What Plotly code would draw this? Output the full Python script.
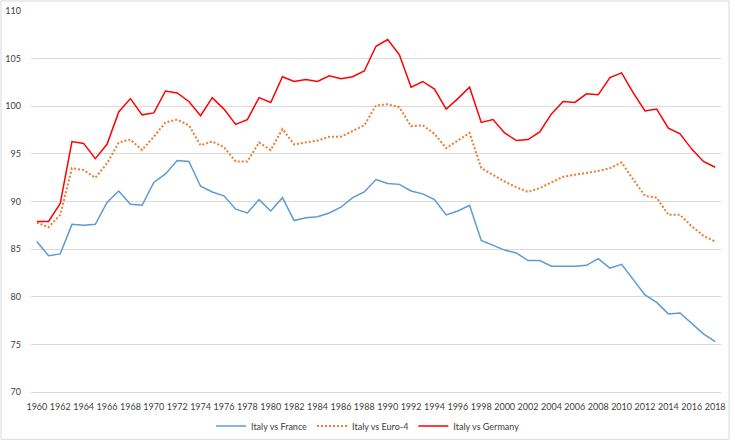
import plotly.graph_objects as go

years = list(range(1960, 2019))

italy_vs_france = [
    85.8, 84.3, 84.5, 87.6, 87.5, 87.6, 89.9, 91.1, 89.7, 89.6,
    92.0, 92.9, 94.3, 94.2, 91.6, 91.0, 90.6, 89.2, 88.8, 90.2,
    89.0, 90.4, 88.0, 88.3, 88.4, 88.8, 89.4, 90.4, 91.0, 92.3,
    91.9, 91.8, 91.1, 90.8, 90.2, 88.6, 89.0, 89.6, 85.9, 85.4,
    84.9, 84.6, 83.8, 83.8, 83.2, 83.2, 83.2, 83.3, 84.0, 83.0,
    83.4, 81.8, 80.2, 79.4, 78.2, 78.3, 77.2, 76.1, 75.3,
]

italy_vs_euro4 = [
    87.8, 87.3, 88.6, 93.5, 93.3, 92.5, 94.0, 96.2, 96.5, 95.4,
    96.8, 98.3, 98.6, 98.0, 95.9, 96.3, 95.7, 94.2, 94.2, 96.2,
    95.4, 97.6, 96.0, 96.2, 96.4, 96.8, 96.8, 97.4, 98.0, 100.1,
    100.2, 99.9, 97.9, 98.0, 97.1, 95.6, 96.4, 97.2, 93.5, 92.8,
    92.1, 91.5, 91.0, 91.4, 92.0, 92.6, 92.8, 93.0, 93.2, 93.5,
    94.1, 92.3, 90.6, 90.4, 88.6, 88.6, 87.4, 86.4, 85.8,
]

italy_vs_germany = [
    87.9, 87.9, 89.8, 96.3, 96.1, 94.5, 96.0, 99.4, 100.8, 99.1,
    99.3, 101.6, 101.4, 100.5, 99.0, 100.9, 99.7, 98.1, 98.6, 100.9,
    100.4, 103.1, 102.6, 102.8, 102.6, 103.2, 102.9, 103.1, 103.7, 106.3,
    107.0, 105.4, 102.0, 102.6, 101.8, 99.7, 100.8, 102.0, 98.3, 98.6,
    97.2, 96.4, 96.5, 97.3, 99.2, 100.5, 100.4, 101.3, 101.2, 103.0,
    103.5, 101.4, 99.5, 99.7, 97.7, 97.1, 95.5, 94.2, 93.6,
]

series_names = ["Italy vs France", "Italy vs Euro-4", "Italy vs Germany"]

FONT = "Lato, 'Open Sans', sans-serif"
TXT = "#404040"

fig = go.Figure()
fig.add_trace(go.Scatter(x=years, y=italy_vs_france, mode="lines", name=series_names[0],
                         line=dict(color="#5B9BD5", width=1.5)))
fig.add_trace(go.Scatter(x=years, y=italy_vs_euro4, mode="lines", name=series_names[1],
                         line=dict(color="#ED7D31", width=2, dash="2px,2px")))
fig.add_trace(go.Scatter(x=years, y=italy_vs_germany, mode="lines", name=series_names[2],
                         line=dict(color="#FF0000", width=1.5)))

L, R, T, B = 31, 14, 11, 49.3
W, H = 735, 441
pw, ph = W - L - R, H - T - B

fig.update_layout(
    width=W, height=H,
    margin=dict(l=L, r=R, t=T, b=B, pad=0, autoexpand=False),
    paper_bgcolor="white", plot_bgcolor="white",
    font=dict(family=FONT, size=9, color=TXT),
    showlegend=True,
    legend=dict(orientation="h", x=(368 - L) / pw, xanchor="center",
                y=(H - B - 425.7) / ph, yanchor="middle",
                font=dict(family=FONT, size=9, color=TXT),
                itemwidth=30, tracegroupgap=0, bgcolor="rgba(0,0,0,0)"),
    xaxis=dict(range=[1959.5, 2018.5], tick0=1960, dtick=2, showgrid=False,
               zeroline=False, showline=True, linecolor="#D9D9D9", linewidth=1,
               ticks="", ticklabelstandoff=6, automargin=False,
               tickfont=dict(family=FONT, size=9, color=TXT)),
    yaxis=dict(range=[70, 110], dtick=5, tick0=70, showgrid=True, gridcolor="#D9D9D9",
               gridwidth=1, zeroline=False, showline=False, ticks="",
               ticklabelstandoff=9, automargin=False,
               tickfont=dict(family=FONT, size=9, color=TXT)),
    shapes=[dict(type="rect", xref="paper", yref="paper",
                 x0=(1 - L) / pw, x1=(729 - L) / pw,
                 y0=(H - B - 439) / ph, y1=(H - B - 1) / ph,
                 line=dict(color="#D9D9D9", width=1), fillcolor="rgba(0,0,0,0)",
                 layer="below")],
)

fig.write_html("out.html")
